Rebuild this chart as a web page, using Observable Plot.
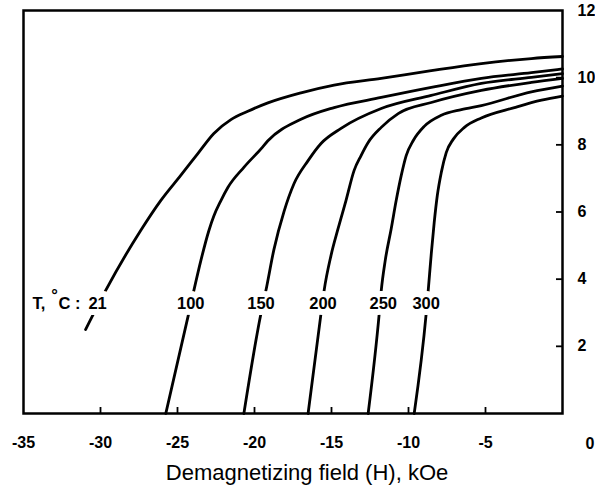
<!DOCTYPE html>
<html><head><meta charset="utf-8">
<script src="https://cdn.jsdelivr.net/npm/d3@7"></script>
<script src="https://cdn.jsdelivr.net/npm/@observablehq/plot@0.6"></script>
<style>body{margin:0;background:#fff}</style>
</head><body><div id="chart"></div>
<script>
// Temperatures (°C)
const temps = ["21", "100", "150", "200", "250", "300"];

// Demagnetizing field H (kOe) and magnetization values for each curve
const h21 = [-30.97, -29.67, -27.39, -26.09, -24.79, -23.68, -22.64, -21.53, -20.43, -19.13, -16.98, -14.83, -11.77, -8.52, -5.27, -2.02, 0];
const m21 = [2.50, 3.66, 5.45, 6.34, 7.09, 7.74, 8.34, 8.75, 9.0, 9.25, 9.55, 9.78, 9.98, 10.21, 10.42, 10.57, 10.63];

const h100 = [-25.76, -24.27, -23.94, -23.48, -22.96, -22.64, -22.18, -21.73, -20.69, -19.58, -19.13, -16.98, -14.83, -11.77, -8.52, -5.27, -2.02, 0];
const m100 = [0, 2.98, 3.66, 4.56, 5.45, 5.88, 6.34, 6.73, 7.33, 7.88, 8.12, 8.76, 9.11, 9.41, 9.71, 9.98, 10.15, 10.26];

const h150 = [-20.69, -19.58, -19.26, -18.74, -18.08, -17.43, -16.52, -15.68, -14.38, -11.77, -8.52, -5.27, -2.02, 0];
const m150 = [0, 2.98, 3.66, 4.88, 6.02, 6.85, 7.53, 8.04, 8.49, 9.08, 9.47, 9.83, 10.01, 10.12];

const h200 = [-16.52, -15.68, -15.48, -15.03, -14.57, -14.06, -13.53, -13.08, -12.62, -11.77, -10.67, -8.52, -5.27, -2.02, 0];
const m200 = [0, 2.98, 3.66, 4.71, 5.51, 6.34, 7.24, 7.68, 8.07, 8.52, 8.93, 9.26, 9.62, 9.86, 9.98];

const h250 = [-12.62, -11.90, -11.77, -11.51, -11.12, -10.80, -10.47, -10.15, -9.69, -8.98, -7.87, -6.57, -5.27, -2.02, 0];
const m250 = [0, 2.98, 3.66, 4.56, 5.51, 6.34, 7.09, 7.68, 8.13, 8.55, 8.88, 9.05, 9.17, 9.58, 9.75];

const h300 = [-9.63, -8.85, -8.72, -8.52, -8.33, -8.13, -7.87, -7.55, -7.09, -6.37, -5.27, -3.12, -1.36, 0];
const m300 = [0, 2.98, 3.66, 4.76, 5.69, 6.49, 7.18, 7.77, 8.17, 8.52, 8.80, 9.11, 9.33, 9.45];

// Curve label positions
const labelX = [-30.19, -24.14, -19.58, -15.55, -11.64, -8.85];
const labelY = [3.28, 3.28, 3.28, 3.28, 3.28, 3.28];

// "T, °C:" prefix parts
const prefixText = ["T,", "°", "C :"];
const prefixX = [-34.42, -32.98, -32.73];
const prefixY = [3.28, 3.28, 3.28];
const prefixRaised = [false, true, false];

// Axes
const xTicks = [-30, -25, -20, -15, -10, -5];
const xTickLabels = [-35, -30, -25, -20, -15, -10, -5];
const xZeroLabel = [0];
const yTicks = [2, 4, 6, 8, 10];
const yTickLabels = [2, 4, 6, 8, 10, 12];
const title = "Demagnetizing field (H), kOe";

const hs = [h21, h100, h150, h200, h250, h300];
const ms = [m21, m100, m150, m200, m250, m300];
const rows = temps.flatMap((t, i) => hs[i].map((h, j) => ({t, h, m: ms[i][j]})));
const labels = temps.map((t, i) => ({t, x: labelX[i], y: labelY[i]}));
const prefix = prefixText.map((s, i) => ({s, x: prefixX[i], y: prefixY[i], raised: prefixRaised[i]}));

const font = "'Liberation Sans', Arial, Helvetica, sans-serif";
const fmt = d => String(d);

const chart = Plot.plot({
  width: 595,
  height: 496,
  marginLeft: 23,
  marginRight: 33,
  marginTop: 10,
  marginBottom: 83,
  style: {fontFamily: font, background: "white", color: "black"},
  x: {domain: [-35, 0]},
  y: {domain: [0, 12]},
  marks: [
    Plot.line(rows, {x: "h", y: "m", z: "t", curve: "monotone-x", stroke: "black", strokeWidth: 2.8}),
    Plot.text(labels, {x: "x", y: "y", text: "t", fontSize: 16.5, fontWeight: "bold", fill: "black", stroke: "white", strokeWidth: 12}),
    Plot.text(prefix.filter(d => !d.raised), {x: "x", y: "y", text: "s", textAnchor: "start", fontSize: 16.5, fontWeight: "bold", fill: "black"}),
    Plot.text(prefix.filter(d => d.raised), {x: "x", y: "y", text: "s", dy: -8, fontSize: 16.5, fontWeight: "bold", fill: "black"}),
    Plot.frame({stroke: "black", strokeWidth: 2.5}),
    // inward tick marks
    Plot.axisX({ticks: xTicks, tickSize: 6, dy: -6, tickFormat: () => "", label: null, strokeWidth: 1.8}),
    Plot.axisY({ticks: yTicks, anchor: "right", tickSize: 7, dx: -7, tickFormat: () => "", label: null, strokeWidth: 1.8}),
    // tick labels
    Plot.axisX({ticks: xTickLabels, tickSize: 0, tickPadding: 23, tickFormat: fmt, label: null, fontSize: 16, fontWeight: "bold"}),
    Plot.text(xZeroLabel, {x: d => d, y: 0, text: fmt, textAnchor: "end", dy: 30, dx: 32, fontSize: 16, fontWeight: "bold", fill: "black"}),
    Plot.axisY({ticks: yTickLabels, anchor: "right", tickSize: 0, tickPadding: 15, tickFormat: fmt, label: null, fontSize: 16, fontWeight: "bold", textAnchor: "start"}),
    Plot.text([title], {frameAnchor: "bottom", dy: 66, dx: 14, fontSize: 22, fill: "black"})
  ]
});
document.getElementById("chart").appendChild(chart);
</script>
</body></html>
